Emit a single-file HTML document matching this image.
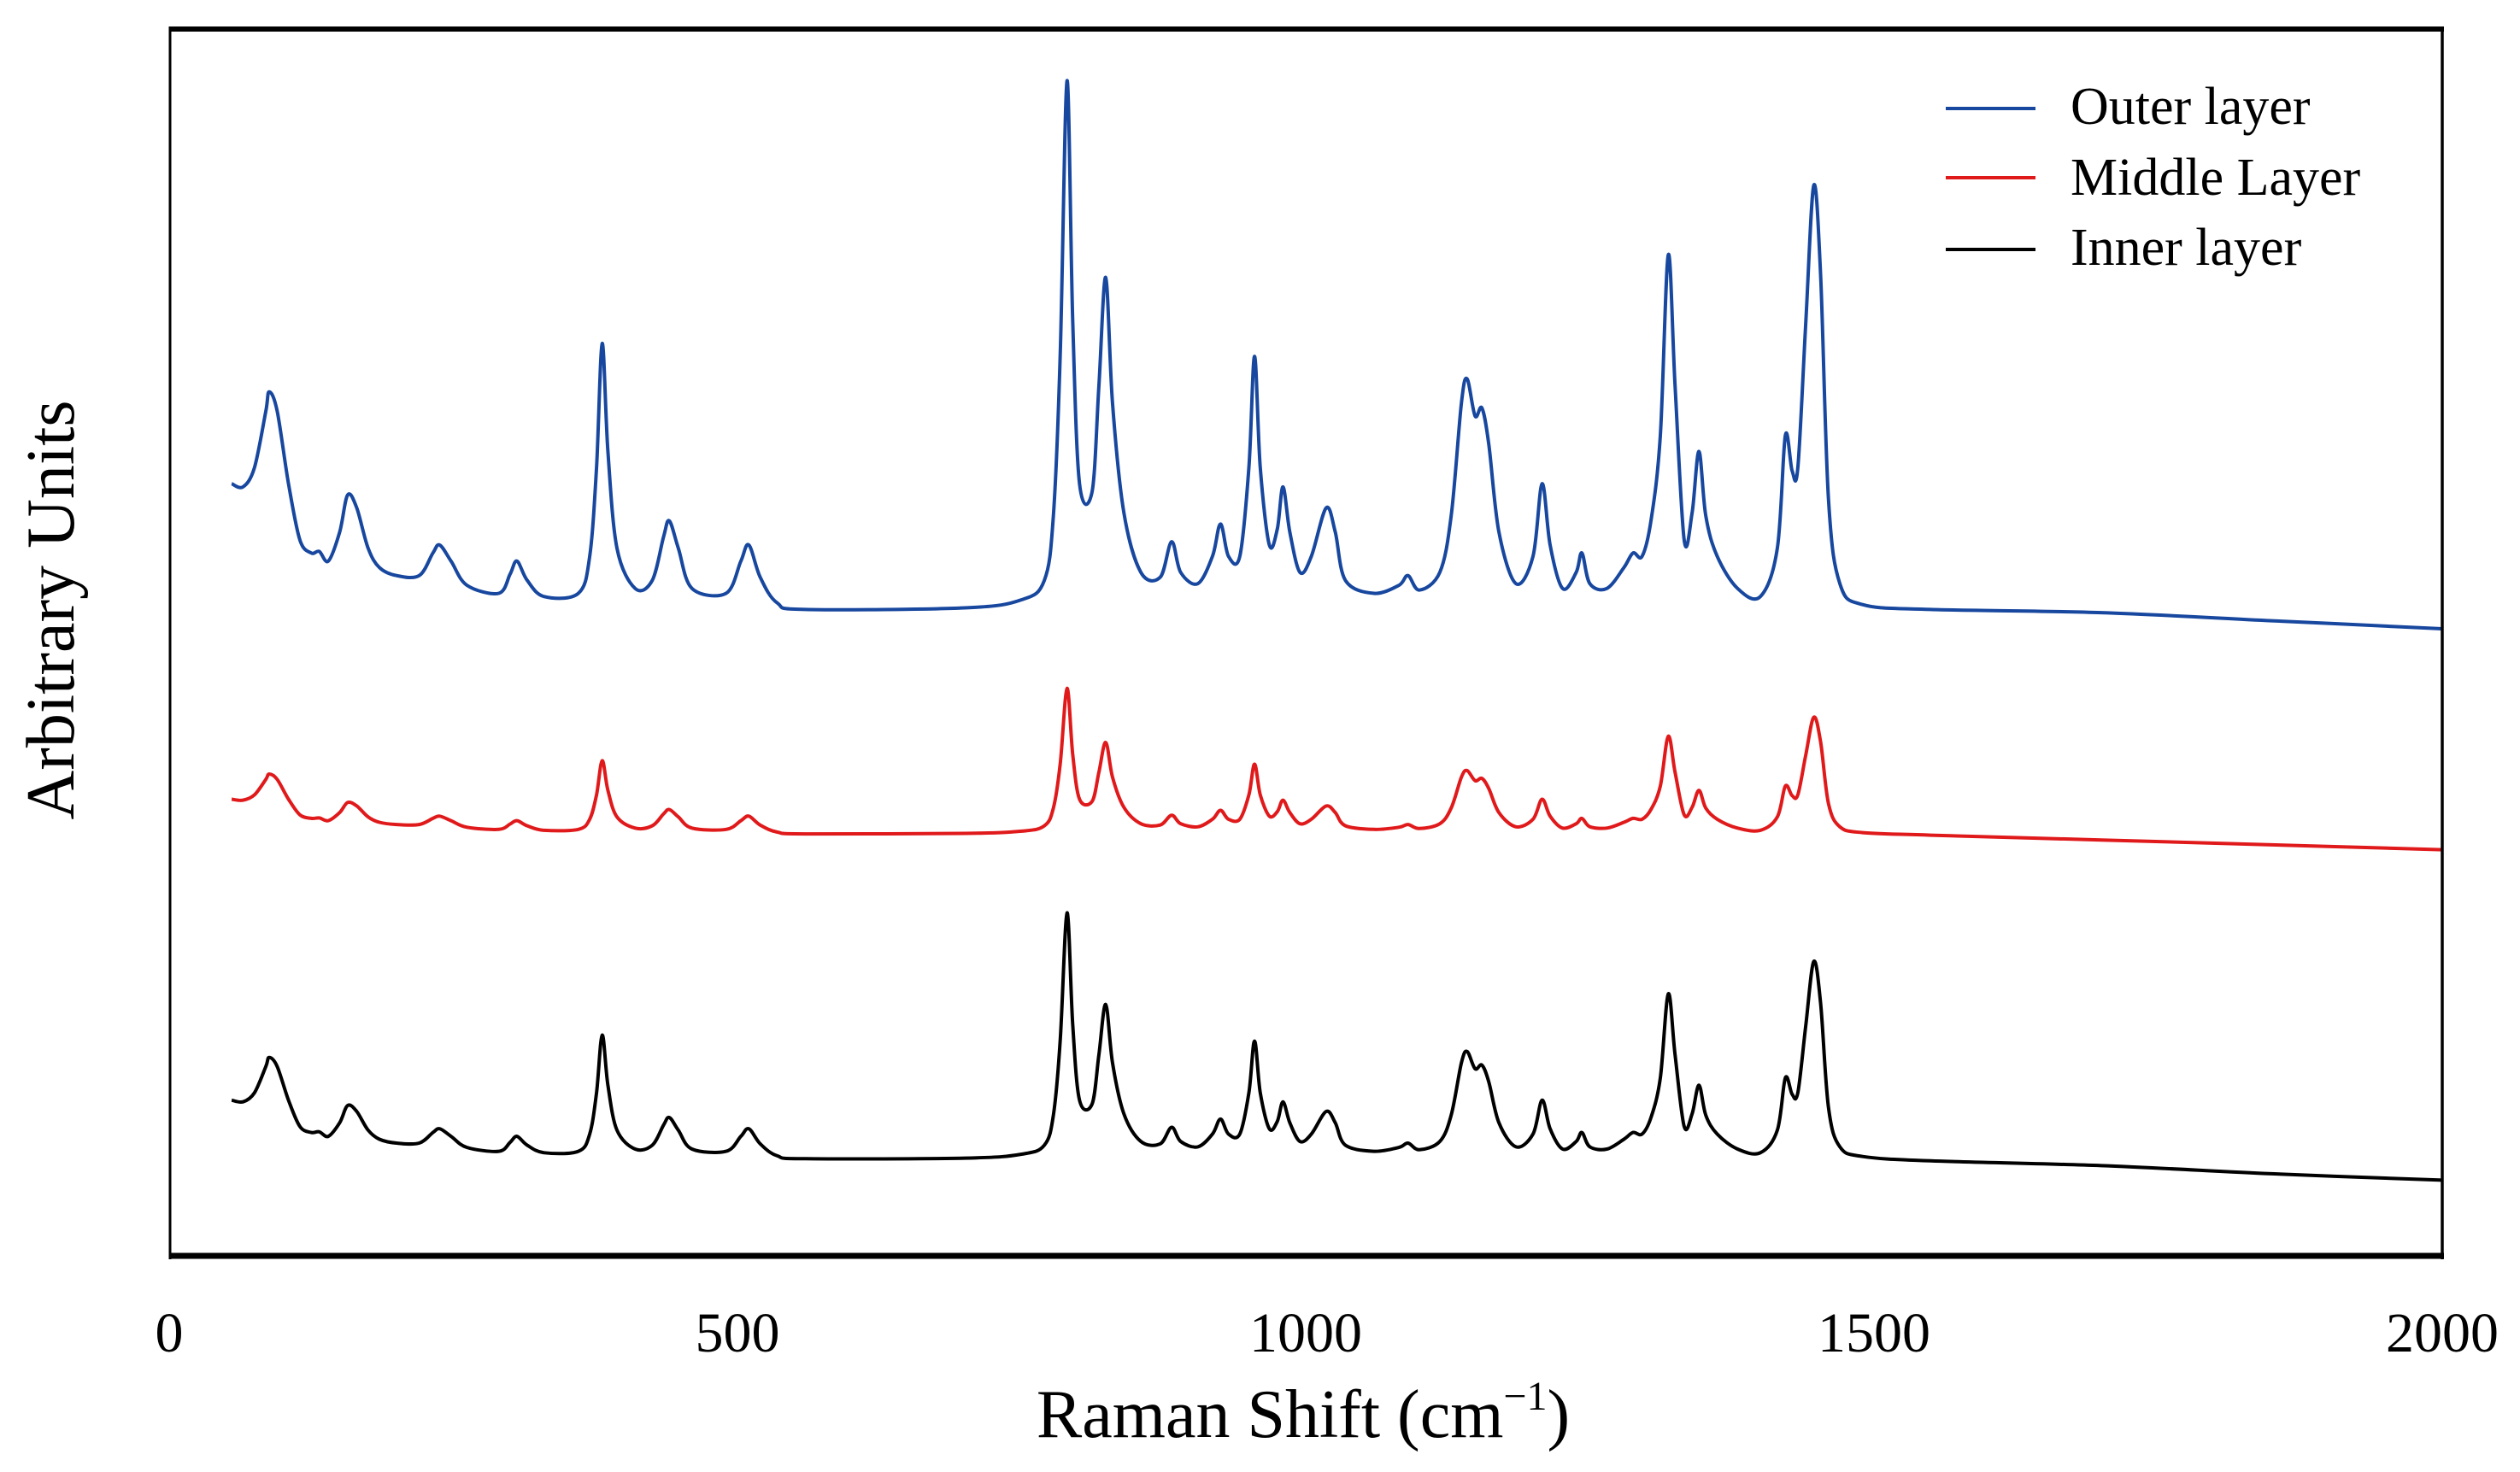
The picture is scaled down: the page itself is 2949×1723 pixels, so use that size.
<!DOCTYPE html>
<html><head><meta charset="utf-8"><style>
html,body{margin:0;padding:0;background:#fff;}
svg{display:block;font-family:"Liberation Serif",serif;}
</style></head><body>
<svg id="chart" width="2949" height="1723" viewBox="0 0 2949 1723" xmlns="http://www.w3.org/2000/svg">
<rect x="0" y="0" width="2949" height="1723" fill="#fff"/>
<g id="series"></g>
<g>
<line x1="198" y1="34" x2="2860" y2="34" stroke="#000" stroke-width="6"/>
<line x1="198" y1="1470" x2="2860" y2="1470" stroke="#000" stroke-width="7"/>
<line x1="199" y1="31" x2="199" y2="1474" stroke="#000" stroke-width="3"/>
<line x1="2858" y1="31" x2="2858" y2="1474" stroke="#000" stroke-width="3.5"/>
</g>
<g id="xticks"></g>
<text x="1525" y="1682" font-size="80" text-anchor="middle">Raman Shift (cm<tspan dy="-32" font-size="48">−1</tspan><tspan dy="32">)</tspan></text>
<text transform="translate(86,714) rotate(-90)" font-size="80" text-anchor="middle">Arbitrary Units</text>
<g>
<g><line x1="2277" y1="127" x2="2382" y2="127" stroke="#17479e" stroke-width="4"/><text x="2423" y="145" font-size="62">Outer layer</text></g>
<g><line x1="2277" y1="208" x2="2382" y2="208" stroke="#e0191b" stroke-width="4"/><text x="2423" y="228" font-size="62">Middle Layer</text></g>
<g><line x1="2277" y1="292" x2="2382" y2="292" stroke="#000" stroke-width="4"/><text x="2423" y="310" font-size="62">Inner layer</text></g>
</g>
</svg>
<script>
const xTicks = [0, 500, 1000, 1500, 2000];
const shifts = [55,65,75,85,88,95,105,115,125,132,140,150,157,165,175,185,200,220,232,238,248,262,290,300,306,315,330,360,370,376,381,386,394,410,425,435,440,448,460,490,503,510,520,535,560,700,750,770,778,784,790,795,801,812,818,824,830,840,855,872,882,890,905,918,925,932,942,950,955,960,968,975,980,986,995,1005,1018,1026,1035,1060,1082,1090,1100,1118,1128,1137,1142,1149,1155,1161,1170,1185,1200,1208,1215,1226,1238,1243,1250,1265,1280,1288,1296,1304,1312,1319,1325,1333,1340,1346,1352,1362,1380,1400,1415,1422,1428,1433,1440,1447,1453,1460,1470,1490,1550,1700,1850,2000];
const outerLayer = [480,478,490,525,537,525,480,445,437,438,432,450,473,465,440,428,423,423,437,442,432,417,412,424,432,420,410,412,435,490,567,500,440,415,420,447,457,440,415,412,432,442,422,406,402,403,408,420,460,560,730,580,480,475,540,608,530,462,425,422,444,425,418,435,455,435,435,490,559,490,442,452,478,450,425,435,465,450,420,412,417,423,414,425,460,530,545,522,527,505,450,418,435,480,442,415,425,437,418,415,428,437,435,458,510,622,540,445,462,500,460,435,415,410,440,510,488,490,580,665,610,470,418,405,402,400,395,390];
const middleLayer = [284.3,283.7,287,296.6,299.9,296.6,284.3,274.6,272.4,272.7,271,276,282.3,280.1,273.3,270,268.6,268.6,272.4,273.8,271,266.9,265.6,268.9,271,267.8,265,265.6,271.9,287,308.2,289.8,273.3,266.4,267.8,275.2,277.9,273.3,266.4,265.6,271,273.8,268.3,263.9,262.8,263.1,264.5,267.8,278.8,306.3,353,311.8,284.3,282.9,300.8,319.5,298,279.3,269.1,268.3,274.4,269.1,267.2,271.9,277.4,271.9,271.9,287,306,287,273.8,276.6,283.7,276,269.1,271.9,280.1,276,267.8,265.6,266.9,268.6,266.1,269.1,278.8,298,302.1,295.8,297.2,291.1,276,267.2,271.9,284.3,273.8,266.4,269.1,272.4,267.2,266.4,270,272.4,271.9,278.2,292.5,323.3,300.8,274.6,279.3,289.8,278.8,271.9,266.4,265,273.3,292.5,286.5,287,311.8,335.1,320,281.5,267.2,263.6,262,259,256,253];
const innerLayer = [97.6,96.6,102.2,118.5,124.1,118.5,97.6,81.3,77.6,78,75.2,83.6,94.3,90.6,79,73.4,71,71,77.6,79.9,75.2,68.3,65.9,71.5,75.2,69.7,65,65.9,76.6,102.2,138,106.9,79,67.3,69.7,82.2,86.9,79,67.3,65.9,75.2,79.9,70.6,63.1,61.3,61.7,64.1,69.7,88.3,134.8,213.8,144,97.6,95.2,125.5,157,120.8,89.2,72,70.6,80.8,72,68.7,76.6,85.9,76.6,76.6,102.2,134.3,102.2,79.9,84.5,96.6,83.6,72,76.6,90.6,83.6,69.7,65.9,68.3,71,66.9,72,88.3,120.8,127.8,117.1,119.4,109.2,83.6,68.7,76.6,97.6,79.9,67.3,72,77.6,68.7,67.3,73.4,77.6,76.6,87.3,111.5,163.6,125.5,81.3,89.2,106.9,88.3,76.6,67.3,65,79,111.5,101.3,102.2,144,183.6,158,92.9,68.7,62.7,60,57,52,48];

const X0=198, X1=2858, Y0=1472, Y1=34;
function xScale(v){ return X0 + (v-0)/(2000-0)*(X1-X0); }
function yScale(v){ return Y0 - (v-0)/(762-0)*(Y0-Y1); }
const NS="http://www.w3.org/2000/svg";

function smoothPath(xs, ys){
  const p = xs.map((x,i)=>[xScale(x), yScale(ys[i])]);
  let d = "M"+p[0][0].toFixed(1)+","+p[0][1].toFixed(1);
  for(let i=0;i<p.length-1;i++){
    const a=p[Math.max(0,i-1)], b=p[i], c=p[i+1], e=p[Math.min(p.length-1,i+2)];
    const c1x=b[0]+(c[0]-a[0])/6, c1y=b[1]+(c[1]-a[1])/6;
    const c2x=c[0]-(e[0]-b[0])/6, c2y=c[1]-(e[1]-b[1])/6;
    d+=" C"+c1x.toFixed(1)+","+c1y.toFixed(1)+" "+c2x.toFixed(1)+","+c2y.toFixed(1)+" "+c[0].toFixed(1)+","+c[1].toFixed(1);
  }
  return d;
}
const g=document.getElementById("series");
function addSeries(vals,color,name){
  const path=document.createElementNS(NS,"path");
  path.setAttribute("d",smoothPath(shifts,vals));
  path.setAttribute("fill","none");
  path.setAttribute("stroke",color);
  path.setAttribute("stroke-width","4");
  path.setAttribute("stroke-linejoin","round");
  
  
  g.appendChild(path);
}
addSeries(outerLayer,"#17479e","outer-layer-line");
addSeries(middleLayer,"#e0191b","middle-layer-line");
addSeries(innerLayer,"#000000","inner-layer-line");

const xt=document.getElementById("xticks");
xTicks.forEach(t=>{
  const tx=document.createElementNS(NS,"text");
  tx.setAttribute("x",xScale(t));
  tx.setAttribute("y",1582);
  tx.setAttribute("font-size","66");
  tx.setAttribute("text-anchor","middle");
  tx.textContent=String(t);
  
  
  xt.appendChild(tx);
});
</script>
</body></html>
